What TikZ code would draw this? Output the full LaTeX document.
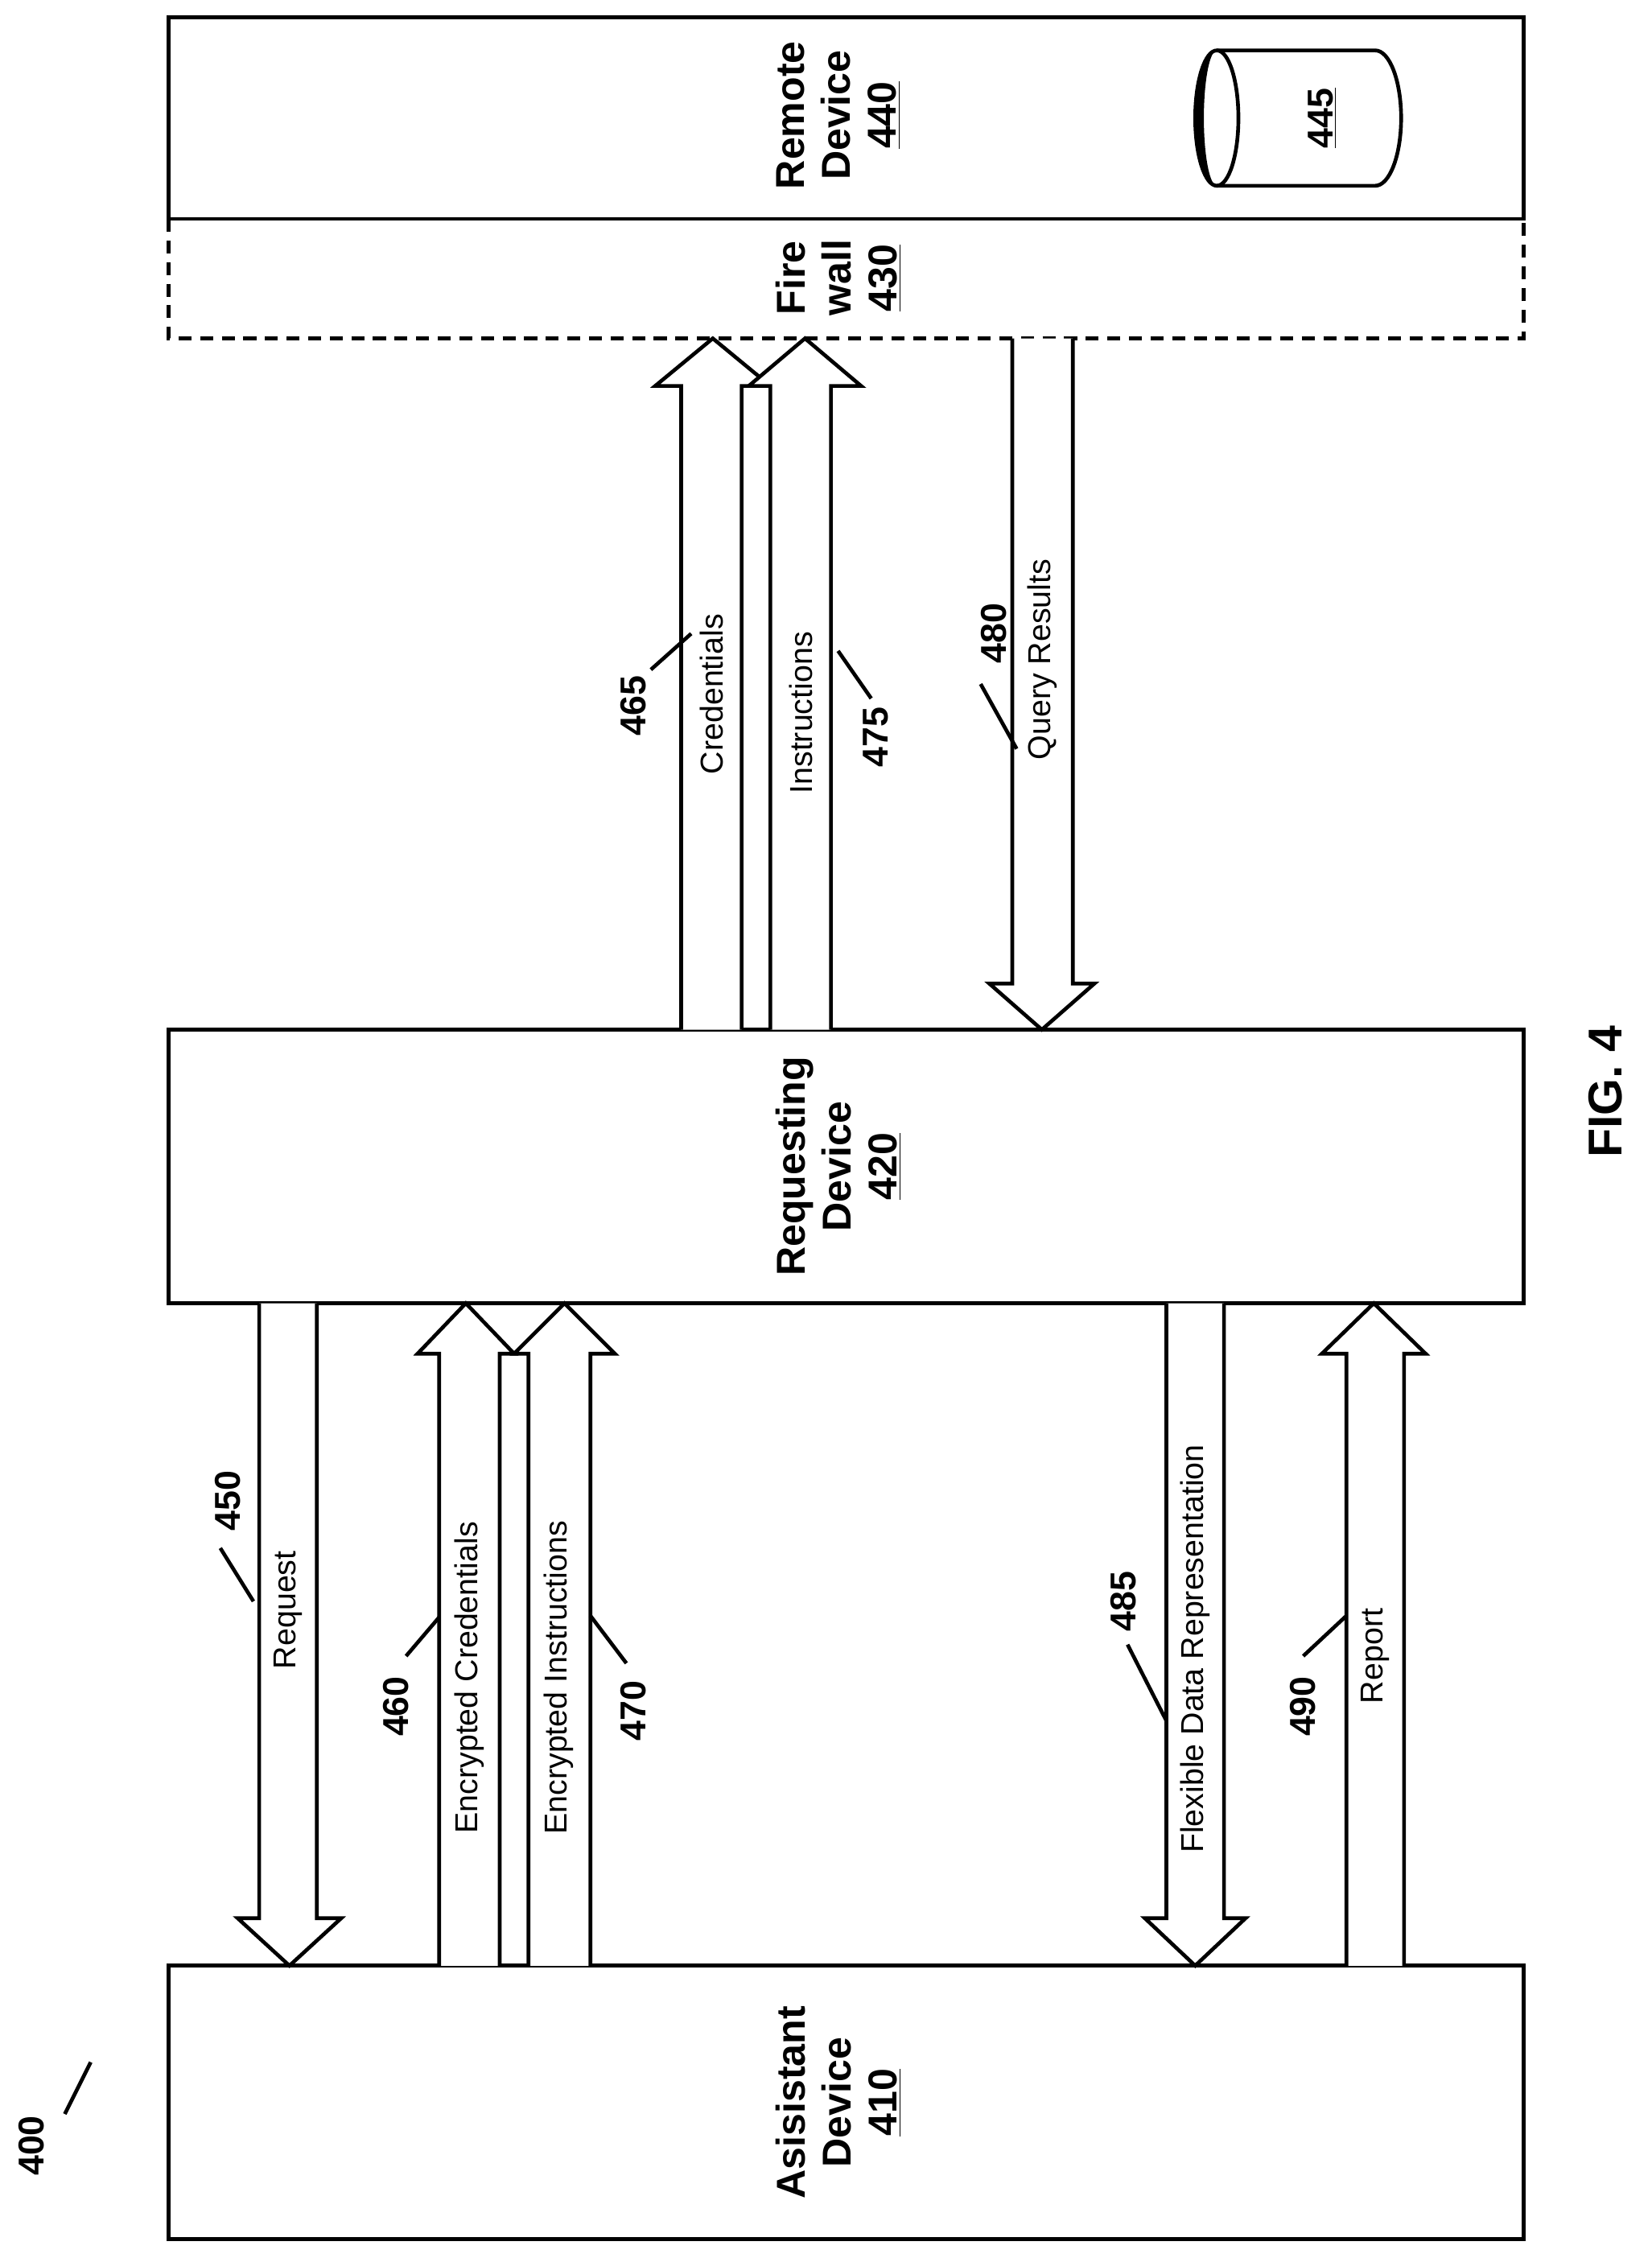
\documentclass[tikz,border=0pt]{standalone}
\usepackage{fontspec}
\setmainfont{Liberation Sans}
\begin{document}
\begin{tikzpicture}[x=1pt,y=1pt,line width=2.6pt,
 lbl/.style={rotate=90,font=\fontsize{22}{24}\selectfont},
 num/.style={rotate=90,font=\fontsize{25}{27}\selectfont\bfseries},
 dev/.style={rotate=90,font=\fontsize{28}{32}\selectfont\bfseries,align=center}]
\useasboundingbox (0,0) rectangle (1147,-1568);
\newcommand\uparr[7]{\filldraw[fill=white] (#1,#5) -- (#1,#7) -- (#3,#7) -- (#3/2+#4/2,#6) -- (#4,#7) -- (#2,#7) -- (#2,#5);}
% boxes
\draw (117,-12) rectangle (1058,-152);
\draw[dash pattern=on 9pt off 6pt] (117,-152) -- (117,-235) -- (1058,-235) -- (1058,-152);
\node[dev] (rd) at (582,-80) {Remote\\Device\\\underline{440}};
\node[dev] (fw) at (582,-193) {Fire\\wall\\\underline{430}};
\draw (117,-715) rectangle (1058,-905);
\node[dev] (rq) at (582,-810) {Requesting\\Device\\\underline{420}};
\draw (117,-1365) rectangle (1058,-1555);
\node[dev] (as) at (582,-1460) {Asisistant\\Device\\\underline{410}};
% cylinder
\draw (845,-35) -- (955,-35) arc[start angle=90,end angle=-90,x radius=18,y radius=47] -- (845,-129);
\draw (845,-82) ellipse[x radius=15,y radius=47];
\fill (845,-35) arc[start angle=90,end angle=270,x radius=15,y radius=47] arc[start angle=270,end angle=90,x radius=9,y radius=47];
\node[rotate=90,font=\fontsize{25}{27}\selectfont\bfseries] (db) at (918,-82) {\underline{445}};
% top arrows
\uparr{473}{515}{455}{535}{-715}{-235}{-268}
\uparr{535}{577}{520}{598}{-715}{-235}{-268}
\uparr{745}{703}{760}{687}{-235}{-715}{-683}
\node[lbl] (c) at (494,-482) {Credentials};
\node[lbl] (i) at (556,-495) {Instructions};
\node[lbl] (q) at (724,-458) {Query Results};
\node[num] (n465) at (440,-490) {465};
\draw (452,-465) -- (480,-440);
\node[num] (n475) at (608,-512) {475};
\draw (582,-452) -- (605,-485);
\node[num] (n480) at (690,-440) {480};
\draw (681,-475) -- (706,-520);
% bottom arrows
\uparr{220}{180}{237}{165}{-905}{-1365}{-1332}
\uparr{305}{347}{290}{357}{-1365}{-905}{-940}
\uparr{367}{410}{357}{427}{-1365}{-905}{-940}
\uparr{850}{810}{865}{795}{-905}{-1365}{-1332}
\uparr{935}{975}{918}{990}{-1365}{-905}{-940}
\node[lbl] (r) at (200,-1118) {Request};
\node[lbl] (ec) at (326,-1165) {Encrypted Credentials};
\node[lbl] (ei) at (388,-1165) {Encrypted Instructions};
\node[lbl] (f) at (830,-1145) {Flexible Data Representation};
\node[lbl] (rp) at (955,-1150) {Report};
\node[num] (n450) at (158,-1042) {450};
\draw (153,-1075) -- (176,-1112);
\node[num] (n460) at (275,-1185) {460};
\draw (282,-1150) -- (305,-1123);
\node[num] (n470) at (440,-1188) {470};
\draw (410,-1122) -- (435,-1155);
\node[num] (n485) at (780,-1112) {485};
\draw (783,-1142) -- (810,-1195);
\node[num] (n490) at (905,-1185) {490};
\draw (905,-1150) -- (935,-1122);
% misc
\node[num] (n400) at (22,-1490) {400};
\draw (45,-1468) -- (63,-1432);
\node[rotate=90,font=\fontsize{33}{36}\selectfont\bfseries] (fig) at (1115,-758) {FIG. 4};
\end{tikzpicture}
\end{document}
